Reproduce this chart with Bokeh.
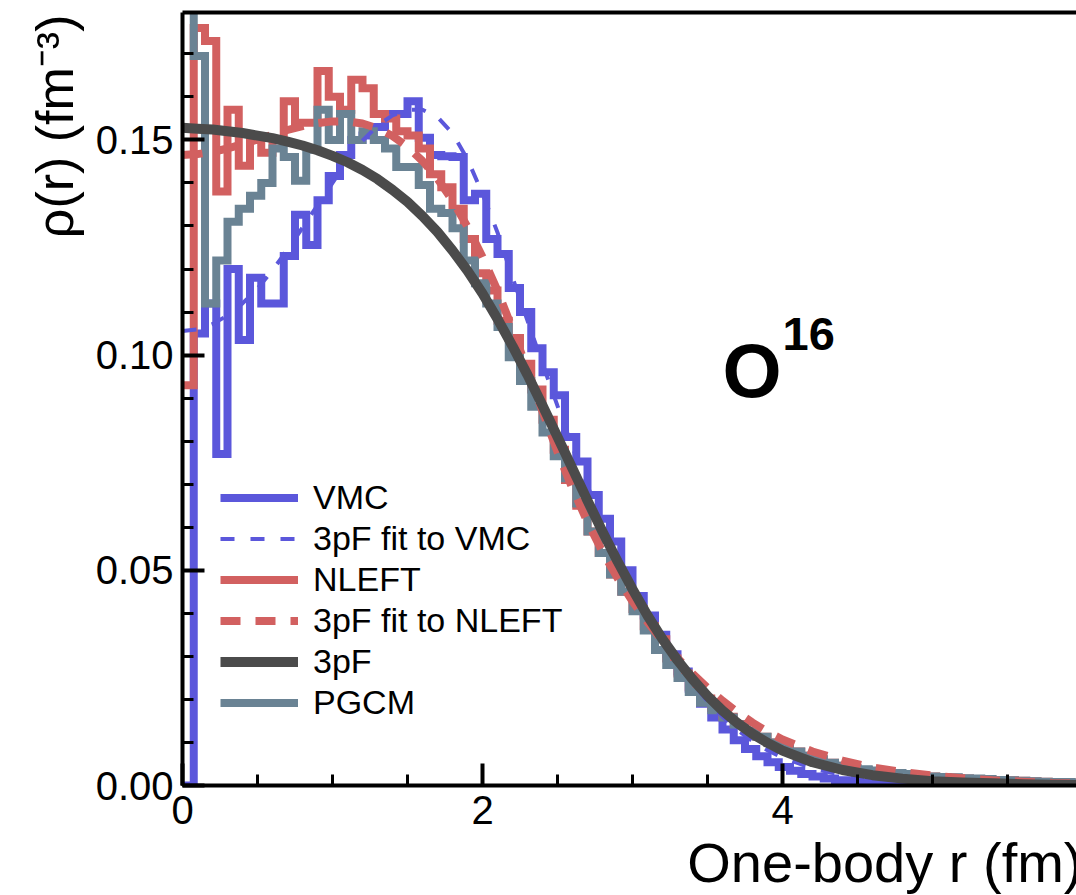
import numpy as np
from bokeh.plotting import figure
from bokeh.models import (Range1d, LinearAxis, SingleIntervalTicker, FixedTicker,
                          NumeralTickFormatter, Label, Legend, LegendItem, Title)
from bokeh.embed import file_html
from bokeh.resources import INLINE

# ---------------- data ----------------
BIN_WIDTH = 0.075  # fm, histogram bin width (80 bins over 0..6 fm)

vmc_hist = [
    0.0, 0.105, 0.112, 0.077, 0.120, 0.1035, 0.118, 0.112, 0.112, 0.123,
    0.1326, 0.1256, 0.136, 0.1416, 0.1465, 0.150, 0.151, 0.153, 0.156, 0.156,
    0.159, 0.1505, 0.1465, 0.1462, 0.146, 0.136, 0.1375, 0.127, 0.1235, 0.1156,
    0.110, 0.1016, 0.096, 0.0907, 0.081, 0.0753, 0.0675, 0.062, 0.0567, 0.050,
    0.044, 0.0395, 0.035, 0.0305, 0.0265, 0.0225, 0.019, 0.0158, 0.013, 0.0105,
    0.0085, 0.0068, 0.0054, 0.0043, 0.0034, 0.0027, 0.0021, 0.0016, 0.0012, 0.0009,
    0.0007, 0.0005, 0.0004, 0.0003, 0.0002, 0.0002, 0.0002, 0.0001, 0.0001, 0.0001,
    0.0001, 0.0001, 0.0, 0.0, 0.0, 0.0, 0.0, 0.0, 0.0, 0.0,
]

nleft_hist = [
    0.093, 0.176, 0.173, 0.138, 0.157, 0.144, 0.150, 0.147, 0.150, 0.159,
    0.154, 0.154, 0.166, 0.160, 0.157, 0.164, 0.162, 0.156, 0.155, 0.152,
    0.151, 0.148, 0.142, 0.139, 0.134, 0.127, 0.119, 0.115, 0.108, 0.104,
    0.098, 0.092, 0.085, 0.078, 0.071, 0.065, 0.059, 0.054, 0.049, 0.045,
    0.041, 0.037, 0.034, 0.0295, 0.026, 0.0228, 0.0202, 0.018, 0.016, 0.0143,
    0.0127, 0.0113, 0.010, 0.0089, 0.0079, 0.0069, 0.0061, 0.0053, 0.0046, 0.0040,
    0.0036, 0.0033, 0.0030, 0.0027, 0.0025, 0.0023, 0.0021, 0.0019, 0.0018, 0.0016,
    0.0015, 0.0014, 0.0013, 0.0012, 0.0011, 0.0010, 0.0009, 0.0008, 0.0008, 0.0007,
]

pgcm_hist = [
    0.19, 0.1695, 0.112, 0.122, 0.131, 0.134, 0.137, 0.140, 0.148, 0.146,
    0.1405, 0.1477, 0.157, 0.150, 0.156, 0.150, 0.152, 0.150, 0.148, 0.1437,
    0.1437, 0.1395, 0.134, 0.133, 0.1295, 0.122, 0.1167, 0.112, 0.1065, 0.0995,
    0.094, 0.088, 0.082, 0.0765, 0.0714, 0.0655, 0.059, 0.054, 0.049, 0.045,
    0.0405, 0.036, 0.0315, 0.028, 0.025, 0.0217, 0.0192, 0.0175, 0.0158, 0.0142,
    0.0127, 0.0113, 0.0100, 0.0089, 0.0079, 0.0069, 0.0061, 0.0053, 0.0046, 0.0040,
    0.0038, 0.0035, 0.0031, 0.0029, 0.0027, 0.0024, 0.0021, 0.0020, 0.0019, 0.0017,
    0.0016, 0.0015, 0.0013, 0.0012, 0.0011, 0.0010, 0.0009, 0.0008, 0.0008, 0.0007,
]

curve_r = [
    0.0, 0.1, 0.2, 0.3, 0.4, 0.5, 0.6, 0.7, 0.8, 0.9,
    1.0, 1.1, 1.2, 1.3, 1.4, 1.5, 1.6, 1.7, 1.8, 1.9,
    2.0, 2.1, 2.2, 2.3, 2.4, 2.5, 2.6, 2.7, 2.8, 2.9,
    3.0, 3.1, 3.2, 3.3, 3.4, 3.5, 3.6, 3.7, 3.8, 3.9,
    4.0, 4.2, 4.4, 4.6, 4.8, 5.0, 5.2, 5.4, 5.6, 5.8, 6.0,
]

fit_vmc = [
    0.1056, 0.1060, 0.1072, 0.1092, 0.1120, 0.1155, 0.1197, 0.1245, 0.1296, 0.1348,
    0.1400, 0.1452, 0.1498, 0.1533, 0.1557, 0.1570, 0.1570, 0.1553, 0.1515, 0.1455,
    0.1375, 0.1285, 0.1180, 0.1080, 0.0980, 0.0882, 0.0786, 0.0696, 0.0612, 0.0533,
    0.0461, 0.0397, 0.0339, 0.0287, 0.0238, 0.0196, 0.0160, 0.0129, 0.0103, 0.0082,
    0.0065, 0.0040, 0.0024, 0.0014, 0.0008, 0.0005, 0.0003, 0.0002, 0.0001, 0.0001, 0.0,
]

fit_nleft = [
    0.1465, 0.1467, 0.1472, 0.1480, 0.1490, 0.1501, 0.1512, 0.1523, 0.1532, 0.1539,
    0.1543, 0.1543, 0.1538, 0.1527, 0.1509, 0.1484, 0.1451, 0.1410, 0.1359, 0.1298,
    0.1228, 0.1150, 0.1060, 0.0965, 0.0870, 0.0775, 0.0690, 0.0612, 0.0543, 0.0482,
    0.0428, 0.0380, 0.0336, 0.0296, 0.0260, 0.0227, 0.0197, 0.0170, 0.0146, 0.0125,
    0.0107, 0.0079, 0.0058, 0.0042, 0.0031, 0.0023, 0.0017, 0.0012, 0.0009, 0.0006, 0.0005,
]

threepf = [
    0.1528, 0.1526, 0.1524, 0.1520, 0.1516, 0.1510, 0.1504, 0.1496, 0.1487, 0.1476,
    0.1463, 0.1448, 0.1430, 0.1409, 0.1384, 0.1356, 0.1323, 0.1286, 0.1243, 0.1196,
    0.1143, 0.1084, 0.1021, 0.0954, 0.0883, 0.0810, 0.0736, 0.0662, 0.0590, 0.0521,
    0.0456, 0.0395, 0.0340, 0.0291, 0.0247, 0.0208, 0.0174, 0.0145, 0.0120, 0.0099,
    0.0081, 0.0054, 0.0036, 0.0024, 0.0016, 0.0010, 0.0007, 0.0005, 0.0003, 0.0002, 0.0001,
]

legend_labels = ["VMC", "3pF fit to VMC", "NLEFT", "3pF fit to NLEFT", "3pF", "PGCM"]
x_title = "One-body r (fm)"
y_title = "\u03c1(r) (fm\u207b\u00b3)"
x_ticks_interval = 2
y_ticks_interval = 0.05

# ---------------- styling ----------------
BLUE = "#5b57db"
RED = "#d26060"
GRAY = "#6a8394"
DARK = "#4b4b4b"
FONT = "Liberation Sans"


def step_path(vals):
    edges = np.arange(len(vals) + 1) * BIN_WIDTH
    xs = np.repeat(edges, 2)[1:-1]
    ys = np.repeat(np.asarray(vals, dtype=float), 2)
    return xs, ys


p = figure(width=1076, height=895, output_backend="svg", toolbar_location=None,
           x_range=Range1d(0, 5.96), y_range=Range1d(0, 0.1796),
           min_border_left=182, min_border_right=0, min_border_top=12,
           min_border_bottom=107, x_axis_type=None, y_axis_type=None)
p.outline_line_color = None
p.background_fill_color = "white"
p.border_fill_color = "white"


def style_axis(ax, standoff):
    ax.axis_line_width = 4
    ax.axis_line_color = "black"
    ax.major_tick_in = 22
    ax.major_tick_out = 0
    ax.minor_tick_in = 11
    ax.minor_tick_out = 0
    ax.major_tick_line_width = 4
    ax.minor_tick_line_width = 3
    ax.major_tick_line_color = "black"
    ax.minor_tick_line_color = "black"
    ax.major_label_text_font = FONT
    ax.major_label_text_font_size = "40px"
    ax.major_label_text_color = "black"
    ax.major_label_standoff = standoff


xaxis = LinearAxis(ticker=SingleIntervalTicker(interval=x_ticks_interval, num_minor_ticks=4),
                   formatter=NumeralTickFormatter(format="0"))
style_axis(xaxis, 10)
p.add_layout(xaxis, "below")

yaxis = LinearAxis(ticker=SingleIntervalTicker(interval=y_ticks_interval, num_minor_ticks=5),
                   formatter=NumeralTickFormatter(format="0.00"))
style_axis(yaxis, 9)
p.add_layout(yaxis, "left")

top = LinearAxis(ticker=FixedTicker(ticks=[]), major_label_text_font_size="0px",
                 major_label_standoff=0, major_tick_out=0, major_tick_in=0,
                 minor_tick_out=0, minor_tick_in=0)
top.axis_line_width = 4
top.axis_line_color = "black"
p.add_layout(top, "above")

# axis titles (right-aligned like the original)
p.add_layout(Title(text=x_title, align="right", offset=-6, standoff=4,
                   text_font=FONT, text_font_size="56px", text_font_style="normal",
                   text_color="black"), "below")
p.add_layout(Title(text=y_title, align="right", offset=2, standoff=17,
                   text_font=FONT, text_font_size="52px", text_font_style="normal",
                   text_color="black"), "left")

# histograms
hx, hy = step_path(vmc_hist)
r_vmc = p.line(hx, hy, line_color=BLUE, line_width=8, line_join="miter")
hx, hy = step_path(nleft_hist)
r_nleft = p.line(hx, hy, line_color=RED, line_width=8, line_join="miter")
hx, hy = step_path(pgcm_hist)
r_pgcm = p.line(hx, hy, line_color=GRAY, line_width=8, line_join="miter")

# fits
r_fvmc = p.line(curve_r, fit_vmc, line_color=BLUE, line_width=4, line_dash="14 16")
r_fnleft = p.line(curve_r, fit_nleft, line_color=RED, line_width=8, line_dash="20 15")
r_3pf = p.line(curve_r, threepf, line_color=DARK, line_width=10, line_join="round")

legend = Legend(items=[
    LegendItem(label=legend_labels[0], renderers=[r_vmc]),
    LegendItem(label=legend_labels[1], renderers=[r_fvmc]),
    LegendItem(label=legend_labels[2], renderers=[r_nleft]),
    LegendItem(label=legend_labels[3], renderers=[r_fnleft]),
    LegendItem(label=legend_labels[4], renderers=[r_3pf]),
    LegendItem(label=legend_labels[5], renderers=[r_pgcm]),
], location=(38, 62))
legend.padding = 0
legend.margin = 0
legend.spacing = 0
legend.glyph_width = 78
legend.glyph_height = 41
legend.label_height = 41
legend.label_standoff = 15
legend.label_text_font = FONT
legend.label_text_font_size = "34px"
legend.label_text_color = "black"
legend.border_line_color = None
legend.background_fill_alpha = 0
p.add_layout(legend)

# nucleus annotation
p.add_layout(Label(x=3.60, y=0.0964, text="O", text_align="left",
                   text_baseline="middle", text_font=FONT, text_font_size="76px",
                   text_font_style="bold", text_color="black"))
p.add_layout(Label(x=4.0, y=0.1049, text="16", text_align="left",
                   text_baseline="middle", text_font=FONT, text_font_size="47px",
                   text_font_style="bold", text_color="black"))

open("out.html", "w").write(file_html(p, INLINE))
